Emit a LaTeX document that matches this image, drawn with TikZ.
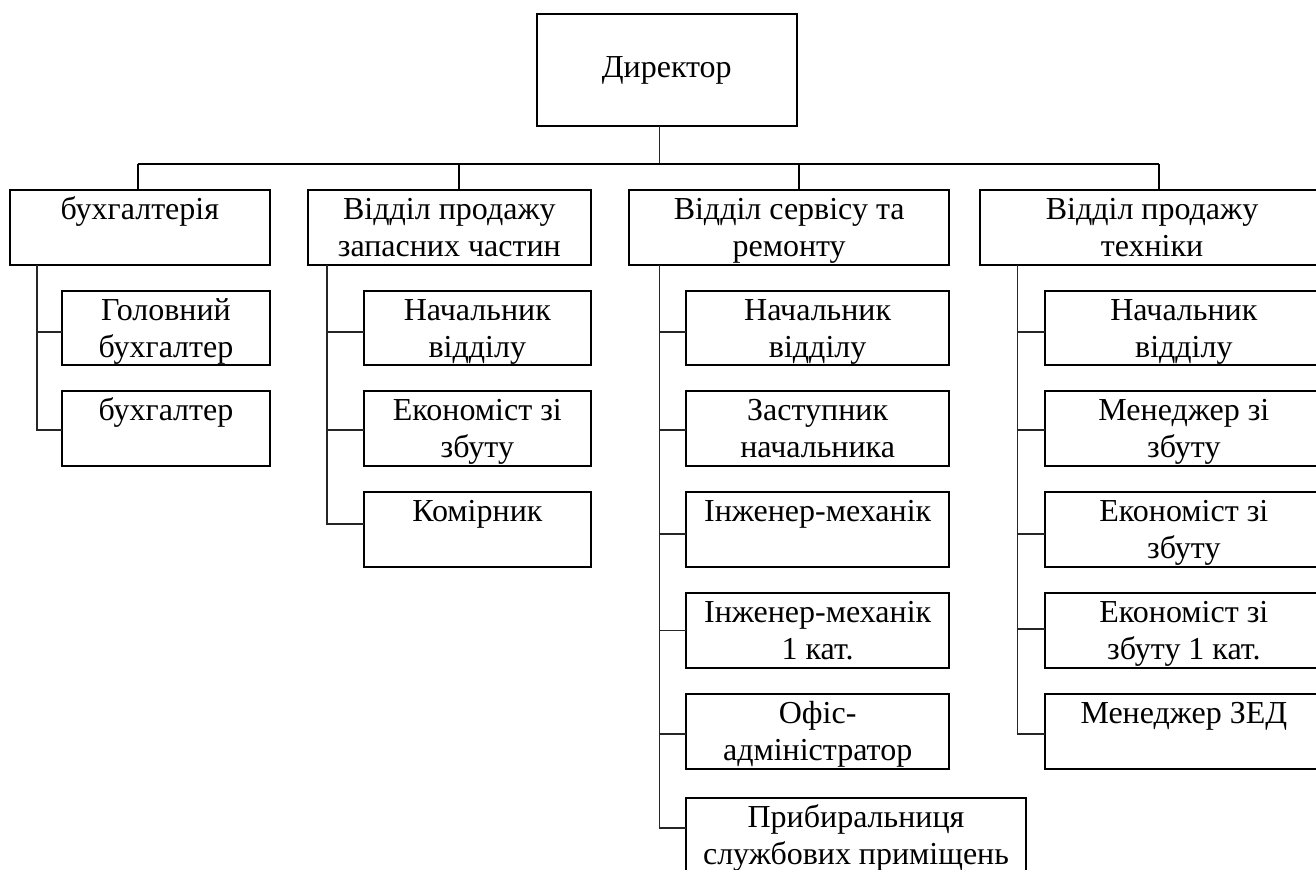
\documentclass[tikz,border=0pt]{standalone}
\usepackage{fontspec}
\setmainfont{Liberation Serif}
\tikzset{
  boxst/.style={draw, line width=0.95pt, inner sep=0pt, outer sep=0pt, anchor=north west},
  conn/.style={line width=0.6pt, black!85},
  busst/.style={line width=0.95pt},
}
\newcommand\bx[6]{%
  \pgfmathsetlengthmacro\bw{(#4-#2)*0.5}%
  \pgfmathsetlengthmacro\bh{(#5-#3)*0.5}%
  \node[boxst] (#1) at (#2,#3) {\parbox[c][\bh][t]{\bw}{\centering\vspace*{2pt}\strut #6\par}};}
\begin{document}
\begin{tikzpicture}[x=0.5pt,y=-0.5pt,font=\fontsize{16}{18.4}\selectfont]
\useasboundingbox (0,0) rectangle (1316,870);
\clip (0,0) rectangle (1316,870);
\fill[white] (0,0) rectangle (1316,870);

% director
\node[draw, line width=0.95pt, minimum width=130.15pt, minimum height=56pt, inner sep=0pt, outer sep=0pt] (dir) at (666.8,70) {Директор};

% departments
\bx{buh}{9.7}{190}{270}{265}{бухгалтерія}
\bx{zap}{307.7}{190}{591}{265}{Відділ продажу\\запасних частин}
\bx{serv}{629}{190}{949.3}{265}{Відділ сервісу та\\ремонту}
\bx{tech}{980}{190}{1324}{265}{Відділ продажу\\техніки}

% sub units
\bx{g1}{62}{291}{270}{365}{Головний\\бухгалтер}
\bx{g2}{62}{391}{270}{466}{бухгалтер}

\bx{z1}{363.7}{291}{591}{365}{Начальник\\відділу}
\bx{z2}{363.7}{391}{591}{466}{Економіст зі\\збуту}
\bx{z3}{363.7}{492}{591}{567}{Комірник}

\bx{s1}{686}{291}{949.3}{365}{Начальник\\відділу}
\bx{s2}{686}{391}{949.3}{466}{Заступник\\начальника}
\bx{s3}{686}{492}{949.3}{567}{Інженер-механік}
\bx{s4}{686}{593}{949.3}{668}{Інженер-механік\\1 кат.}
\bx{s5}{686}{694}{949.3}{769}{Офіс-\\адміністратор}
\bx{s6}{686}{798}{1026}{873}{Прибиральниця\\службових приміщень}

\bx{t1}{1044.7}{291}{1323}{365}{Начальник\\відділу}
\bx{t2}{1044.7}{391}{1323}{466}{Менеджер зі\\збуту}
\bx{t3}{1044.7}{492}{1323}{567}{Економіст зі\\збуту}
\bx{t4}{1044.7}{593}{1323}{668}{Економіст зі\\збуту 1 кат.}
\bx{t5}{1044.7}{694}{1323}{769}{Менеджер ЗЕД}

% bus
\coordinate (b0) at (659.3,164);
\coordinate (b1) at (137.7,164);
\coordinate (b2) at (459,164);
\coordinate (b3) at (799,164);
\coordinate (b4) at (1159,164);
\draw[conn] (dir.south -| b0) -- (b0);
\draw[busst] (b1) -- (b4);
\draw[busst] (b1) -- (b1 |- buh.north);
\draw[busst] (b2) -- (b2 |- zap.north);
\draw[busst] (b3) -- (b3 |- serv.north);
\draw[busst] (b4) -- (b4 |- tech.north);

% trunks
\coordinate (tb) at (37,265);
\coordinate (tz) at (327,265);
\coordinate (ts) at (659.3,265);
\coordinate (tt) at (1017.7,265);

\draw[conn] (tb) |- ([yshift=-2pt]g1.west);
\draw[conn] (tb) |- ([yshift=-0.75pt]g2.west);

\draw[conn] (tz) |- ([yshift=-2pt]z1.west);
\draw[conn] (tz) |- ([yshift=-0.75pt]z2.west);
\draw[conn] (tz) |- ([yshift=2.75pt]z3.west);

\draw[conn] (ts) |- ([yshift=-2pt]s1.west);
\draw[conn] (ts) |- ([yshift=-0.75pt]s2.west);
\draw[conn] (ts) |- ([yshift=-2.25pt]s3.west);
\draw[conn] (ts) |- (s4.west);
\draw[conn] (ts) |- ([yshift=-1.25pt]s5.west);
\draw[conn] (ts) |- ([yshift=3.75pt]s6.west);

\draw[conn] (tt) |- ([yshift=-2pt]t1.west);
\draw[conn] (tt) |- ([yshift=-0.75pt]t2.west);
\draw[conn] (tt) |- ([yshift=-2.25pt]t3.west);
\draw[conn] (tt) |- ([yshift=0.75pt]t4.west);
\draw[conn] (tt) |- ([yshift=-1.25pt]t5.west);
\end{tikzpicture}
\end{document}
